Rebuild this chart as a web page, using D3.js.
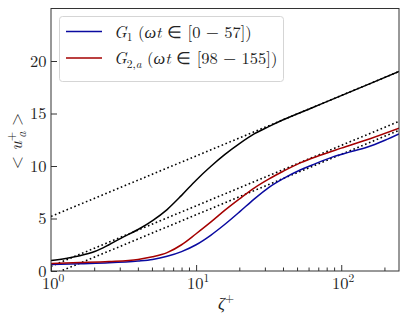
<!DOCTYPE html>
<html><head><meta charset="utf-8">
<script src="https://cdn.jsdelivr.net/npm/d3@7"></script>
<style>
body{margin:0;background:#fff;}
</style></head>
<body><svg id="c" width="407" height="320"></svg>
<script>
// ---- data ----
const blackZeta = [1, 1.26, 1.58, 2, 2.51, 3.16, 3.98, 5.01, 6.31, 7.94, 10, 12.6, 15.8, 20, 25.1, 31.6, 39.8, 63.1, 100, 158, 250];
const blackU    = [1.0, 1.2, 1.45, 1.85, 2.5, 3.25, 3.95, 4.8, 5.85, 7.2, 8.65, 9.95, 11.1, 12.15, 13.05, 13.75, 14.4, 15.55, 16.7, 17.85, 19.0];

const redZeta = [1, 1.58, 2.51, 3.98, 5.01, 6.31, 7.94, 10, 12.6, 15.8, 20, 25.1, 31.6, 39.8, 52.1, 70.8, 100, 158, 250];
const redU    = [0.72, 0.8, 0.9, 1.1, 1.35, 1.75, 2.5, 3.55, 4.65, 5.8, 6.9, 7.9, 8.75, 9.5, 10.3, 11.0, 11.7, 12.6, 13.6];

const blueZeta = [1, 1.58, 2.51, 3.98, 5.01, 6.31, 7.94, 10, 12.6, 15.8, 20, 25.1, 31.6, 39.8, 52.1, 63.1, 88.5, 112, 150, 200, 250];
const blueU    = [0.62, 0.7, 0.78, 0.95, 1.1, 1.4, 1.85, 2.5, 3.4, 4.45, 5.65, 6.85, 7.95, 8.8, 9.62, 10.1, 10.89, 11.3, 11.78, 12.45, 13.05];

// reference log-law lines (dotted), end points at zeta=1 and zeta=250
const refZeta = [1, 250];
const refUpper = [5.2, 19.0];
const refMid   = [0.45, 14.25];
const refLow   = [-0.4, 13.4];

const xTicks = [1, 10, 100];
const xTickExp = ["0", "1", "2"];
const yTicks = [0, 5, 10, 15, 20];

// ---- layout ----
const FONT = "Latin Modern Roman";
const svg = d3.select("#c").attr("font-family", FONT);
const L = 51, R = 399, T = 8.5, B = 271;
const x = d3.scaleLog().domain([1, 250]).range([L, R]);
const y = d3.scaleLinear().domain([0, 25]).range([B, T]);

svg.append("defs").append("clipPath").attr("id","clip")
  .append("rect").attr("x",L).attr("y",T).attr("width",R-L).attr("height",B-T);

const g = svg.append("g").attr("clip-path","url(#clip)");
const line = d3.line().x(d=>x(d[0])).y(d=>y(d[1])).curve(d3.curveMonotoneX);
const zip = (a,b)=>a.map((v,i)=>[v,b[i]]);

// dotted reference lines
[refUpper, refMid, refLow].forEach(r=>{
  g.append("path").attr("d", d3.line().x(d=>x(d[0])).y(d=>y(d[1]))(zip(refZeta,r)))
   .attr("fill","none").attr("stroke","#000").attr("stroke-width",1.6)
   .attr("stroke-dasharray","1.6,2.6");
});
g.append("path").attr("d", line(zip(blackZeta,blackU))).attr("fill","none").attr("stroke","#000").attr("stroke-width",1.5);
g.append("path").attr("d", line(zip(blueZeta,blueU))).attr("fill","none").attr("stroke","#0a0aa0").attr("stroke-width",1.5);
g.append("path").attr("d", line(zip(redZeta,redU))).attr("fill","none").attr("stroke","#a50000").attr("stroke-width",1.5);

// axes (inward ticks)
const xAxis = d3.axisBottom(x).tickValues(xTicks).tickSize(-6).tickFormat("");
const gx = svg.append("g").attr("transform",`translate(0,${B})`).call(xAxis);
const minor = [];
[1,10,100].forEach(dec=>{for(let k=2;k<=9;k++){const v=dec*k; if(v<=250) minor.push(v);}});
gx.selectAll(".minor").data(minor).enter().append("line").attr("class","minor")
  .attr("x1",d=>x(d)).attr("x2",d=>x(d)).attr("y1",0).attr("y2",-3.5);
gx.selectAll("line").attr("stroke","#333");
gx.select(".domain").remove();

const yAxis = d3.axisLeft(y).tickValues(yTicks).tickSize(-6).tickFormat("");
const gy = svg.append("g").attr("transform",`translate(${L},0)`).call(yAxis);
gy.selectAll("line").attr("stroke","#333");
gy.select(".domain").remove();

svg.append("rect").attr("x",L).attr("y",T).attr("width",R-L).attr("height",B-T)
  .attr("fill","none").attr("stroke","#333").attr("stroke-width",1);

function txt(sel){ return sel.append("text").attr("font-family",FONT).attr("fill","#222"); }

// tick labels
yTicks.forEach(v=>{
  txt(svg).attr("x",46.5).attr("y",y(v)+5.5).attr("text-anchor","end")
    .attr("font-size",16.5).text(v);
});
xTicks.forEach((v,i)=>{
  const t = txt(svg).attr("x",x(v)+2).attr("y",289).attr("text-anchor","middle").attr("font-size",16.5);
  t.append("tspan").text("10");
  t.append("tspan").attr("dy",-7).attr("font-size",11.5).text(xTickExp[i]);
});

// axis labels
const xl = txt(svg).attr("x",226).attr("y",309).attr("text-anchor","middle").attr("font-size",17);
xl.append("tspan").attr("font-style","italic").text("ζ");
xl.append("tspan").attr("dy",-7).attr("font-size",12).text("+");

const yl = txt(svg).attr("transform","translate(22,141) rotate(-90)").attr("text-anchor","middle").attr("font-size",17);
yl.append("tspan").text("< ");
yl.append("tspan").attr("font-style","italic").text("u");
yl.append("tspan").attr("dy",-7).attr("font-size",12).text("+");
yl.append("tspan").attr("dx",-6).attr("dy",11).attr("font-size",12).attr("font-style","italic").text("a");
yl.append("tspan").attr("dy",-4).text(" >");

// legend
svg.append("rect").attr("x",59.5).attr("y",16.5).attr("width",224).attr("height",65).attr("rx",3)
  .attr("fill","#fff").attr("fill-opacity",0.8).attr("stroke","#d5d5d5").attr("stroke-width",1);
const legendNames = [["1", "0 − 57"], ["2,a", "98 − 155"]];
const legendColors = ["#0a0aa0", "#a50000"];
legendNames.forEach((nm,i)=>{
  const ly = 31.5 + i*26.5;
  svg.append("line").attr("x1",66).attr("x2",102).attr("y1",ly).attr("y2",ly)
    .attr("stroke",legendColors[i]).attr("stroke-width",1.5);
  const t = txt(svg).attr("x",114).attr("y",ly+6).attr("font-size",16.5);
  t.append("tspan").attr("font-style","italic").text("G");
  if(i===0){
    t.append("tspan").attr("dy",3.5).attr("font-size",11.5).text("1");
  } else {
    t.append("tspan").attr("dy",3.5).attr("font-size",11.5).text("2,");
    t.append("tspan").attr("font-size",11.5).attr("font-style","italic").text("a");
  }
  t.append("tspan").attr("dy",-3.5).text(" (");
  t.append("tspan").attr("font-style","italic").text("ωt");
  t.append("tspan").text(" ∈ [" + nm[1] + "])");
});
</script>
</body></html>
